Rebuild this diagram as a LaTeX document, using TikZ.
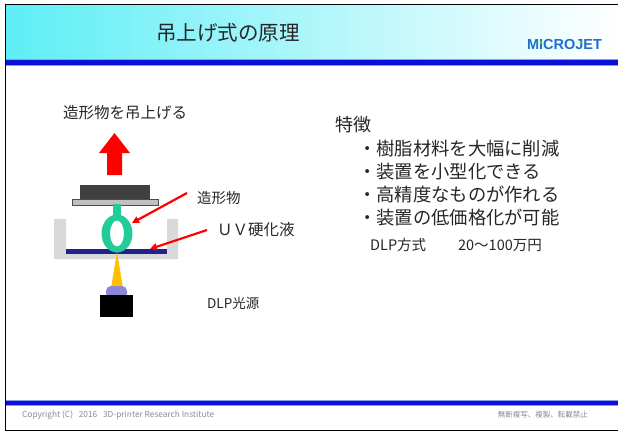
\documentclass[tikz,border=0pt]{standalone}
\usepackage{fontspec}
\setmainfont{Noto Sans CJK JP}
\newfontfamily\logofont{Liberation Sans}
\usetikzlibrary{arrows.meta}

\definecolor{headcyan}{HTML}{5EEEF6}
\definecolor{bandblue}{HTML}{0A10D8}
\definecolor{bandlight}{HTML}{8C9CF2}
\definecolor{logoblue}{HTML}{1F6FCF}
\definecolor{logogreen}{HTML}{5CC83C}
\definecolor{platedark}{HTML}{404040}
\definecolor{platelight}{HTML}{C0C0C0}
\definecolor{vatgray}{HTML}{D9D9D9}
\definecolor{resinblue}{HTML}{22228C}
\definecolor{partgreen}{HTML}{22CC99}
\definecolor{beamyellow}{HTML}{FFC000}
\definecolor{lenspurple}{HTML}{8A86D8}
\definecolor{bodytext}{HTML}{262626}
\definecolor{foottext}{HTML}{8A8A8A}

\tikzset{
  txt/.style={inner sep=0pt, text=bodytext},
  logoletter/.style={inner sep=0pt, outer sep=0pt, anchor=base west, text=logoblue,
    font=\logofont\bfseries\fontsize{14.5}{16}\selectfont},
  pointer/.style={red, line width=2.2pt, -{Triangle[length=7pt,width=7pt]}},
}

\begin{document}
\begin{tikzpicture}[x=1pt,y=-1pt]
\useasboundingbox (0,0) rectangle (618,433);
\fill[white] (0,0) rectangle (618,433);

% header band with gradient and blue rule
\shade[left color=headcyan, right color=white] (5.5,5.5) rectangle (618,60);
\fill[bandlight] (5.5,59.5) rectangle (618,66);
\fill[bandblue] (5.5,60.5) rectangle (618,64.8);

% footer rule
\fill[bandlight] (5.5,399.5) rectangle (618,405.5);
\fill[bandblue] (5.5,400.5) rectangle (618,404.5);

% outer frame
\draw[black, line width=1pt] (618,4.5) -- (5.5,4.5) -- (5.5,430) -- (618,430);

% title
\node[txt, font=\fontsize{20.5}{24}\selectfont] (title) at (228,33) {吊上げ式の原理};

% logo
\node[logoletter] (lm) at (527,50) {M};
\node[logoletter] (li) at (lm.base east) {I};
\node[logoletter] (lc) at (li.base east) {C};
\node[logoletter] (lr) at (lc.base east) {R};
\node[logoletter] (lo) at (lr.base east) {O};
\node[logoletter] (lj) at (lo.base east) {J};
\node[logoletter] (le) at (lj.base east) {E};
\node[logoletter] (lt) at (le.base east) {T};
\fill[logogreen] ([yshift=-2.6pt]li.north) circle (1.5pt);
\fill[logogreen] ([xshift=1.6pt,yshift=-2.6pt]lj.north) circle (1.5pt);

% lifting arrow and its caption
\node[txt, anchor=west, font=\fontsize{15.5}{18}\selectfont] (lift) at (63,113) {造形物を吊上げる};
\fill[red] (107,175) -- (107,153) -- (99,153) -- (114.5,133) -- (130,153) -- (122,153) -- (122,175) -- cycle;

% build platform
\fill[platedark] (80,185) rectangle (150,199);
\filldraw[fill=platelight, draw=gray!60!black, line width=0.6pt] (72,199.5) rectangle (158,205);

% resin vat
\fill[vatgray] (54,219) -- (66,219) -- (66,253) -- (167,253) -- (167,219) -- (178,219)
  -- (178,259) -- (54,259) -- cycle;
\fill[resinblue] (66,249) rectangle (167,253.5);

% printed part hanging from the platform
\fill[partgreen] (113,204) rectangle (121,219);
\fill[partgreen, even odd rule] (117,233.5) ellipse [x radius=15.5, y radius=19]
  (117,233.5) ellipse [x radius=7, y radius=13];

% DLP light source and beam
\fill[beamyellow] (117,252) -- (123,288) -- (111,288) -- cycle;
\fill[lenspurple, rounded corners=5pt] (106,299) -- (106,286) -- (127,286) -- (127,299) -- cycle;
\fill[black] (100,295) rectangle (133,317);

% labels with pointers
\node[txt, anchor=west, font=\fontsize{14.5}{17}\selectfont] (part) at (197,198) {造形物};
\node[txt, anchor=west, font=\fontsize{15.5}{18}\selectfont] (resin) at (217,230) {ＵＶ硬化液};
\node[txt, anchor=west, font=\fontsize{13.5}{16}\selectfont] (dlp) at (207,303) {DLP光源};
\coordinate (partpt) at (132,223);
\coordinate (resinpt) at (150,249);
\draw[pointer] ([xshift=-10pt,yshift=5pt]part.west) -- (partpt);
\draw[pointer] ([xshift=-10pt]resin.west) -- (resinpt);

% feature list
\node[txt, anchor=west, font=\fontsize{18}{21}\selectfont] (feat) at (335,125) {特徴};
\node[txt, anchor=west, font=\fontsize{18.3}{21}\selectfont] (f1) at (358,149) {・樹脂材料を大幅に削減};
\node[txt, anchor=west, font=\fontsize{18.3}{21}\selectfont] (f2) at (358,172) {・装置を小型化できる};
\node[txt, anchor=west, font=\fontsize{18.3}{21}\selectfont] (f3) at (358,195) {・高精度なものが作れる};
\node[txt, anchor=west, font=\fontsize{18.3}{21}\selectfont] (f4) at (358,218) {・装置の低価格化が可能};
\node[txt, anchor=west, font=\fontsize{14.5}{17}\selectfont] (cost) at (370,245) {DLP方式\hspace{2.2em}20～100万円};

% footer
\node[inner sep=0pt, anchor=west, text=foottext, font=\fontsize{8.3}{10}\selectfont] (copy) at (22,415) {Copyright (C)\hspace{0.7em}2016\hspace{0.7em}3D-printer Research Institute};
\node[inner sep=0pt, anchor=east, text=foottext, font=\fontsize{7.5}{9}\selectfont] (rights) at (588,415) {無断複写、複製、転載禁止};
\end{tikzpicture}
\end{document}
